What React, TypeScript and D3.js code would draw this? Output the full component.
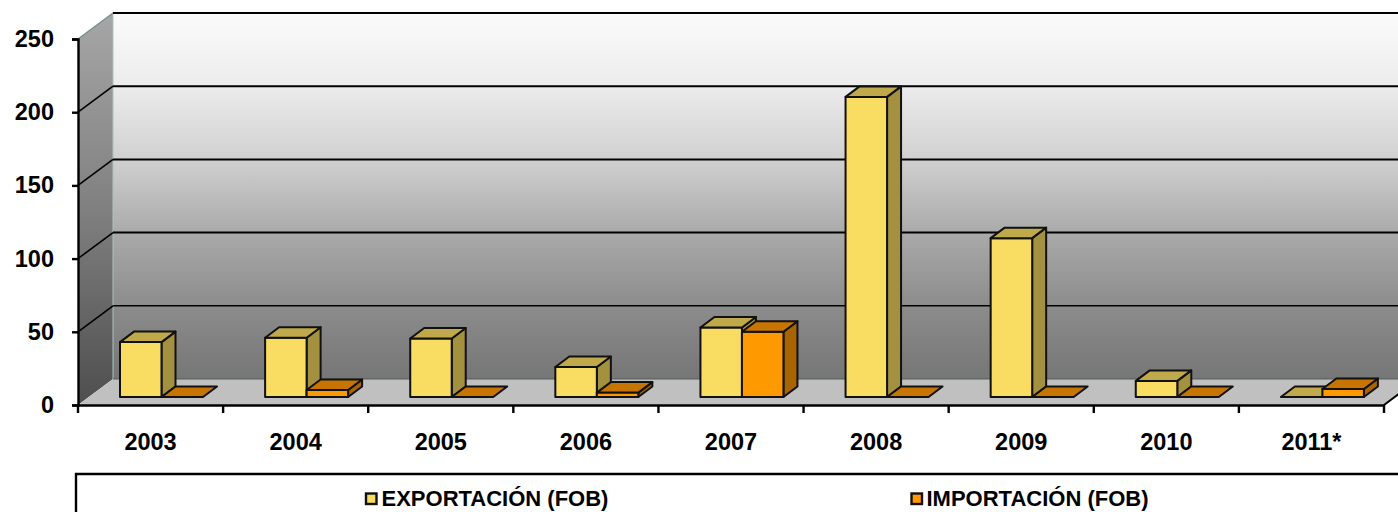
import React, { useEffect, useRef } from "react";
import * as d3 from "d3";

const categories = ["2003", "2004", "2005", "2006", "2007", "2008", "2009", "2010", "2011*"];
const exportacion = [37.5, 40.5, 40, 20.5, 47.5, 205, 108.5, 11, 0];
const importacion = [0, 4.8, 0, 3, 44.6, 0, 0, 0, 5.5];
const yTicks = [0, 50, 100, 150, 200, 250];
const wallStops = [
    [0, "#fbfbfb"], [0.2, "#ececec"], [0.4, "#d0d0d0"], [0.6, "#aaaaaa"], [0.8, "#8c8c8c"], [1, "#767676"],
];
const sideStops = [[0, "#a6a6a6"], [0.5, "#808080"], [1, "#4e4e4e"]];

export default function App() {
    const ref = useRef<SVGSVGElement>(null);

    useEffect(() => {
        const width = 1398, height = 512;
        const x0 = 78, x1 = 1384, yBase = 405, yTop = 39;
        const dx = 35, dy = 26;   // depth of the 3d box
        const barDx = 14, barDy = 10.5;

        const svg = d3.select(ref.current);
        svg.selectAll("*").remove();
        svg.attr("width", width).attr("height", height);

        const x = d3.scaleBand<string>().domain(categories).range([x0, x1]);
        const y = d3.scaleLinear().domain([0, 250]).range([yBase, yTop]);
        const h = (v: number) => yBase - y(v);
        const barY = yBase - 8;   // bars stand a bit inside the floor
        const barW = 41.5;
        const barOffset = 42;

        const defs = svg.append("defs");
        const grad = (id: string, stops: any[]) => {
            const g = defs.append("linearGradient").attr("id", id).attr("x1", 0).attr("x2", 0).attr("y1", 0).attr("y2", 1);
            stops.forEach(s => g.append("stop").attr("offset", s[0]).attr("stop-color", s[1]));
        };
        grad("wall", wallStops);
        grad("side", sideStops);

        // walls and floor
        svg.append("rect")
            .attr("x", x0 + dx).attr("y", y(250) - dy)
            .attr("width", x1 - x0).attr("height", yBase - yTop)
            .attr("fill", "url(#wall)");
        svg.append("polygon")
            .attr("points", [[x0, yTop], [x0 + dx, yTop - dy], [x0 + dx, yBase - dy], [x0, yBase]].join(" "))
            .attr("fill", "url(#side)");
        svg.append("polygon")
            .attr("points", [[x0, yBase], [x0 + dx, yBase - dy], [x1 + dx, yBase - dy], [x1, yBase]].join(" "))
            .attr("fill", "#c0c0c0");
        svg.append("line")
            .attr("x1", x0 + dx).attr("x2", x0 + dx)
            .attr("y1", yTop - dy).attr("y2", yBase - dy)
            .attr("stroke", "#a9c4c4").attr("stroke-width", 1);

        // gridlines, the top one has a pale diagonal and the 50 one is thinner
        const grid = svg.append("g");
        yTicks.forEach(t => {
            if (t > 0) {
                grid.append("line")
                    .attr("x1", x0).attr("y1", y(t)).attr("x2", x0 + dx).attr("y2", y(t) - dy)
                    .attr("stroke", t === 250 ? "#6f8f8f" : "#000").attr("stroke-width", t === 250 ? 1.2 : 1.6);
                grid.append("line")
                    .attr("x1", x0 + dx).attr("y1", y(t) - dy).attr("x2", x1 + dx).attr("y2", y(t) - dy)
                    .attr("stroke", "#000").attr("stroke-width", t === 50 ? 1.4 : 2);
            }
        });
        grid.append("line")
            .attr("x1", x0 + dx).attr("x2", x1 + dx)
            .attr("y1", yBase - dy).attr("y2", yBase - dy)
            .attr("stroke", "#4f5f5f").attr("stroke-width", 1.2);

        // one 3d bar
        const bar = (left: number, value: number, front: string, top: string, side: string) => {
            const g = svg.append("g").attr("stroke", "#111").attr("stroke-width", 2).attr("stroke-linejoin", "round");
            const t = barY - h(value);
            if (value > 0) {
                g.append("polygon")
                    .attr("points", [[left + barW, t], [left + barW + barDx, t - barDy], [left + barW + barDx, barY - barDy], [left + barW, barY]].join(" "))
                    .attr("fill", side);
                g.append("rect")
                    .attr("x", left).attr("y", t).attr("width", barW).attr("height", barY - t)
                    .attr("fill", front);
            }
            g.append("polygon")
                .attr("points", [[left, t], [left + barDx, t - barDy], [left + barW + barDx, t - barDy], [left + barW, t]].join(" "))
                .attr("fill", top);
        };

        categories.forEach((c, i) => {
            const left = (x(c) as number) + barOffset;
            bar(left, exportacion[i], "#f9dc62", "#bfa94a", "#a39140");
            bar(left + barW, importacion[i], "#ff9900", "#c77400", "#a86400");
        });

        // axes
        const yAxis = d3.axisLeft(y).tickValues(yTicks).tickSize(6).tickPadding(18);
        const gy = svg.append("g").attr("transform", `translate(${x0},0)`).call(yAxis);
        const xAxis = d3.axisBottom(x).tickSize(0).tickPadding(28);
        const gx = svg.append("g").attr("transform", `translate(0,${yBase})`).call(xAxis);
        [gy, gx].forEach(g => {
            g.selectAll("text")
                .attr("fill", "#000")
                .style("font-family", "Liberation Sans")
                .style("font-weight", "bold")
                .style("font-size", "23.5px");
            g.selectAll(".domain").attr("stroke", "#000").attr("stroke-width", 2.4);
            g.selectAll(".tick line").attr("stroke", "#000").attr("stroke-width", 2.4);
        });
        // ticks on the band edges
        const edges = categories.map(c => x(c) as number).concat(x1);
        gx.selectAll(".edge").data(edges).enter().append("line")
            .attr("class", "edge")
            .attr("x1", d => d).attr("x2", d => d)
            .attr("y1", 0).attr("y2", 8)
            .attr("stroke", "#000").attr("stroke-width", 2.4);
        svg.append("line")
            .attr("x1", x1).attr("y1", yBase).attr("x2", x1 + dx).attr("y2", yBase - dy)
            .attr("stroke", "#000").attr("stroke-width", 2);

        // legend
        svg.append("path")
            .attr("d", `M76,${height + 4}V474H${width + 4}`)
            .attr("fill", "none").attr("stroke", "#000").attr("stroke-width", 2.4);
        const legend = [
            { label: "EXPORTACIÓN (FOB)", color: "#f9dc62", sx: 366, tx: 381.5 },
            { label: "IMPORTACIÓN (FOB)", color: "#ff9900", sx: 911.5, tx: 926.5 },
        ];
        legend.forEach(l => {
            svg.append("rect")
                .attr("x", l.sx).attr("y", 493.5).attr("width", 10.5).attr("height", 10.5)
                .attr("fill", l.color).attr("stroke", "#111").attr("stroke-width", 2.4);
            svg.append("text")
                .attr("x", l.tx).attr("y", 506)
                .attr("font-family", "Liberation Sans").attr("font-weight", "bold").attr("font-size", 22)
                .text(l.label);
        });
    }, []);

    return <svg ref={ref} style={{ position: "absolute", left: 0, top: 0, display: "block" }}></svg>;
}
